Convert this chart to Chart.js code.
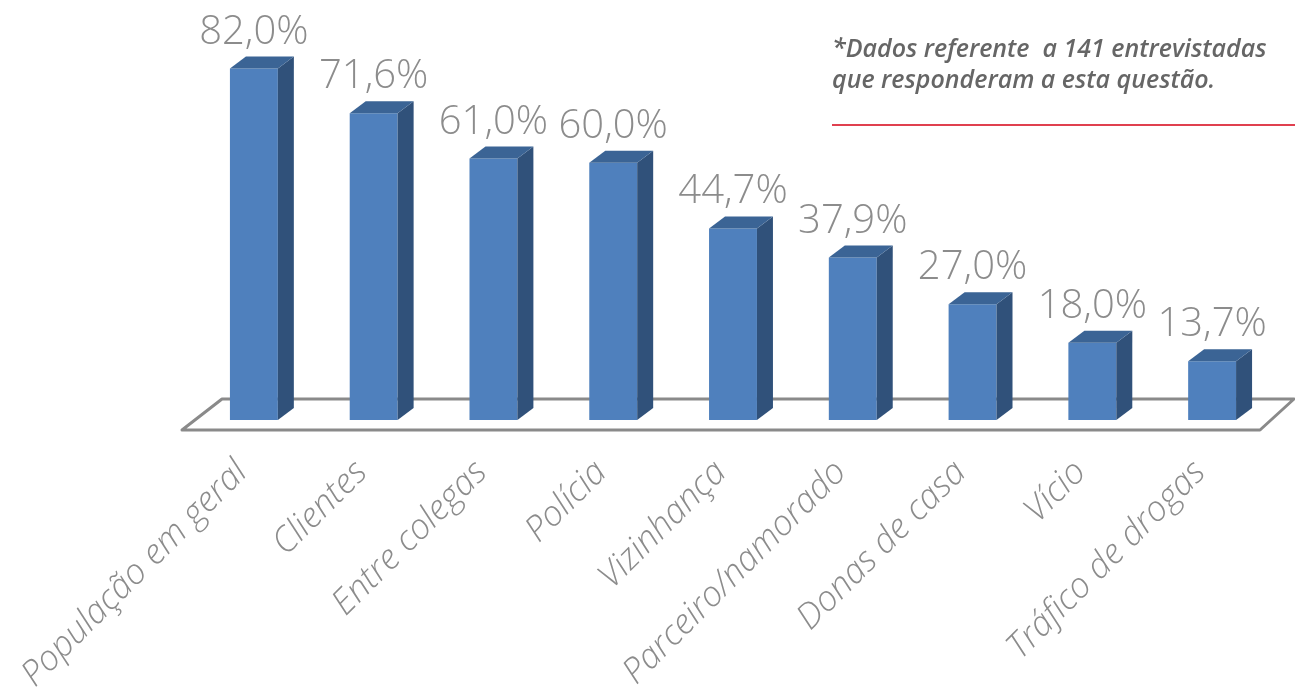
<!DOCTYPE html>
<html lang="pt">
<head>
<meta charset="utf-8">
<title>Locais de violência</title>
<script src="https://cdn.jsdelivr.net/npm/chart.js@4.4.1/dist/chart.umd.min.js"></script>
<style>
body { margin:0; background:#fff; }
#wrap { position:relative; width:1295px; height:697px; }
#nota {
  position:absolute; left:832px; top:32px;
  font-family:"Open Sans", sans-serif; font-style:italic; font-weight:600;
  font-size:25px; line-height:31px; color:#666; white-space:pre;
}
#linha { position:absolute; left:832px; top:124px; width:463px; height:2px; background:#e0404f; }
</style>
</head>
<body>
<div id="wrap">
  <canvas id="grafico" width="1295" height="697"></canvas>
  <div id="nota">*Dados referente  a 141 entrevistadas
que responderam a esta questão.</div>
  <div id="linha"></div>
</div>
<script>
const categorias = [
  "População em geral", "Clientes", "Entre colegas", "Polícia", "Vizinhança",
  "Parceiro/namorado", "Donas de casa", "Vício", "Tráfico de drogas"
];
const valores = [82.0, 71.6, 61.0, 60.0, 44.7, 37.9, 27.0, 18.0, 13.7];

const frente = "#4f80bd";
const lado = "#30517a";
const topo = "#3b6495";
const cinza = "#8c8c8c";
const prof = { dx: 16, dy: 12 };

function fmt(v) {
  return v.toFixed(1).replace(".", ",") + "%";
}

// floor under the bars, drawn before the front faces
const piso = {
  id: "piso",
  beforeDatasetsDraw(chart) {
    const ctx = chart.ctx;
    const a = chart.chartArea;
    const base = chart.scales.y.getPixelForValue(0);
    ctx.save();
    ctx.strokeStyle = "#8a8a8a";
    ctx.lineWidth = 3;
    ctx.lineJoin = "round";
    ctx.beginPath();
    ctx.moveTo(a.left - 12, base + 10);
    ctx.lineTo(a.left + 28, base - 21);
    ctx.lineTo(a.right + 22, base - 21);
    ctx.lineTo(a.right - 12, base + 10);
    ctx.closePath();
    ctx.stroke();
    ctx.restore();
  }
};

// side and top faces of each bar, plus the value on top
const caixa = {
  id: "caixa",
  afterDatasetsDraw(chart) {
    const ctx = chart.ctx;
    const meta = chart.getDatasetMeta(0);
    ctx.save();
    meta.data.forEach((bar, i) => {
      const p = bar.getProps(["x", "y", "base", "width"], true);
      const l = p.x - p.width / 2, r = p.x + p.width / 2;
      ctx.fillStyle = lado;
      ctx.beginPath();
      ctx.moveTo(r, p.base);
      ctx.lineTo(r + prof.dx, p.base - prof.dy);
      ctx.lineTo(r + prof.dx, p.y - prof.dy);
      ctx.lineTo(r, p.y);
      ctx.closePath();
      ctx.fill();
      ctx.fillStyle = topo;
      ctx.beginPath();
      ctx.moveTo(l, p.y);
      ctx.lineTo(l + prof.dx, p.y - prof.dy);
      ctx.lineTo(r + prof.dx, p.y - prof.dy);
      ctx.lineTo(r, p.y);
      ctx.closePath();
      ctx.fill();

      ctx.fillStyle = cinza;
      ctx.font = "300 40px 'Open Sans', sans-serif";
      ctx.textAlign = "center";
      ctx.textBaseline = "alphabetic";
      ctx.fillText(fmt(valores[i]), p.x, p.y - 25);
    });
    ctx.restore();
  }
};

new Chart(document.getElementById("grafico"), {
  type: "bar",
  data: {
    labels: categorias,
    datasets: [{
      data: valores,
      backgroundColor: frente,
      borderWidth: 0,
      barPercentage: 1,
      categoryPercentage: 0.4
    }]
  },
  options: {
    responsive: false,
    animation: false,
    layout: { padding: { left: 194, right: 23, top: 0, bottom: 0 } },
    plugins: {
      legend: { display: false },
      tooltip: { enabled: false }
    },
    scales: {
      x: {
        grid: { display: false, drawTicks: false },
        border: { display: false },
        afterFit(s) {
          s.height = 277;
          s.paddingLeft = 0;
          s.paddingRight = 0;
        },
        ticks: {
          minRotation: 45,
          maxRotation: 45,
          padding: 32,
          labelOffset: -12,
          color: cinza,
          font: { family: "'Open Sans', sans-serif", size: 35, weight: 300, style: "italic" }
        }
      },
      y: {
        display: false,
        min: 0,
        max: 98
      }
    }
  },
  plugins: [piso, caixa]
});
</script>
</body>
</html>
